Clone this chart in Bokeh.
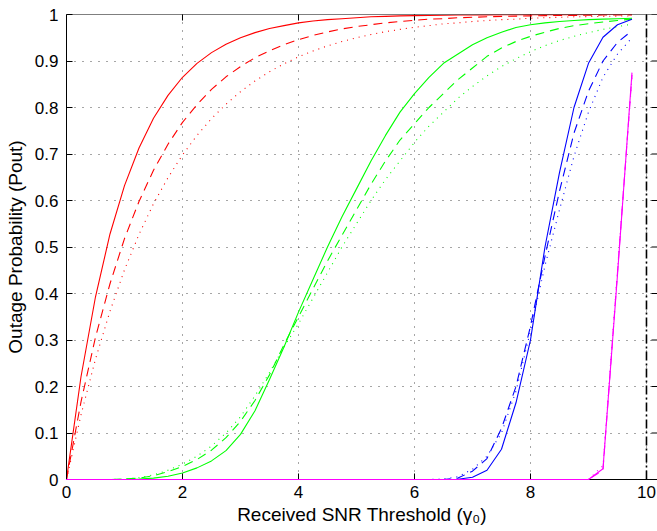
import math
from bokeh.plotting import figure
from bokeh.models import FixedTicker, Range1d, Span
from bokeh.embed import file_html
from bokeh.resources import INLINE

# ---------------- data ----------------
snr = [0.0, 0.25, 0.5, 0.75, 1.0, 1.25, 1.5, 1.75, 2.0, 2.25,
       2.5, 2.75, 3.0, 3.25, 3.5, 3.75, 4.0, 4.25, 4.5, 4.75,
       5.0, 5.25, 5.5, 5.75, 6.0, 6.25, 6.5, 6.75, 7.0, 7.25,
       7.5, 7.75, 8.0, 8.25, 8.5, 8.75, 9.0, 9.25, 9.5, 9.75]

red_solid = [0.0, 0.221, 0.393, 0.528, 0.632, 0.713, 0.777, 0.826, 0.865, 0.895,
             0.918, 0.936, 0.950, 0.961, 0.970, 0.976, 0.982, 0.986, 0.989, 0.991,
             0.993, 0.995, 0.996, 0.997, 0.9975, 0.998, 0.9985, 0.999, 0.999, 0.9993,
             0.9994, 0.9996, 0.9997, 0.9997, 0.9998, 0.9998, 0.9999, 0.9999, 0.9999, 0.9999]
red_dashed = [0.0, 0.167, 0.306, 0.421, 0.518, 0.598, 0.665, 0.721, 0.768, 0.806,
              0.839, 0.866, 0.888, 0.907, 0.922, 0.935, 0.946, 0.955, 0.9625, 0.969,
              0.974, 0.978, 0.982, 0.985, 0.9875, 0.990, 0.991, 0.993, 0.994, 0.995,
              0.996, 0.9965, 0.997, 0.9975, 0.998, 0.998, 0.9986, 0.9988, 0.999, 0.999]
red_dotted = [0.0, 0.139, 0.259, 0.362, 0.451, 0.527, 0.593, 0.649, 0.698, 0.740,
              0.776, 0.807, 0.834, 0.857, 0.877, 0.894, 0.909, 0.9215, 0.9325, 0.942,
              0.950, 0.957, 0.963, 0.968, 0.9725, 0.976, 0.980, 0.982, 0.985, 0.987,
              0.989, 0.990, 0.992, 0.993, 0.994, 0.995, 0.9955, 0.996, 0.9966, 0.997]

green_solid = [0.0, 0.0, 0.0, 0.0, 0.0, 0.001, 0.003, 0.007, 0.014, 0.025,
               0.04, 0.062, 0.097, 0.148, 0.215, 0.285, 0.36, 0.43, 0.50, 0.565,
               0.625, 0.685, 0.74, 0.79, 0.83, 0.865, 0.895, 0.915, 0.935, 0.95,
               0.962, 0.972, 0.978, 0.982, 0.985, 0.987, 0.989, 0.99, 0.991, 0.992]
green_dashed = [0.0, 0.0, 0.0, 0.0, 0.001, 0.003, 0.008, 0.017, 0.028, 0.043,
                0.063, 0.09, 0.125, 0.17, 0.225, 0.29, 0.35, 0.41, 0.47, 0.525,
                0.58, 0.635, 0.685, 0.73, 0.765, 0.80, 0.83, 0.86, 0.885, 0.91,
                0.928, 0.942, 0.953, 0.962, 0.97, 0.976, 0.98, 0.984, 0.987, 0.99]
green_dotted = [0.0, 0.0, 0.0, 0.0, 0.001, 0.004, 0.01, 0.02, 0.033, 0.05,
                0.072, 0.1, 0.135, 0.18, 0.23, 0.285, 0.335, 0.39, 0.445, 0.50,
                0.55, 0.6, 0.645, 0.685, 0.725, 0.76, 0.79, 0.82, 0.845, 0.868,
                0.888, 0.905, 0.92, 0.933, 0.944, 0.953, 0.961, 0.968, 0.974, 0.979]

blue_solid = [0.0] * 27 + [0.0005, 0.005, 0.02, 0.065, 0.165, 0.30, 0.50,
                           0.66, 0.80, 0.895, 0.951, 0.978, 0.99]
blue_dashed = [0.0] * 27 + [0.003, 0.018, 0.045, 0.11, 0.2, 0.33, 0.48,
                            0.62, 0.745, 0.835, 0.9, 0.94, 0.965]
blue_dotted = [0.0] * 26 + [0.001, 0.006, 0.022, 0.05, 0.1, 0.19, 0.32,
                            0.46, 0.58, 0.695, 0.79, 0.865, 0.915, 0.95]

magenta_solid = [0.0] * 36 + [0.0, 0.023, 0.44, 0.875]
magenta_dashed = [0.0] * 36 + [0.0, 0.02, 0.445, 0.87]
magenta_dotted = [0.0] * 36 + [0.0, 0.03, 0.45, 0.865]

limit_x = [10.0, 10.0]
limit_y = [0.0, 1.0]

x_ticks = [0, 2, 4, 6, 8, 10]
y_ticks = [0, 0.1, 0.2, 0.3, 0.4, 0.5, 0.6, 0.7, 0.8, 0.9, 1]
y_tick_labels = ["0", "0.1", "0.2", "0.3", "0.4", "0.5", "0.6", "0.7", "0.8", "0.9", "1"]

X_END = 10.19

# ---------------- figure ----------------
FONT = "Liberation Sans"

p = figure(width=657, height=531,
           x_range=Range1d(0, X_END), y_range=Range1d(0, 1),
           output_backend="svg", toolbar_location=None,
           min_border_left=66, min_border_top=14,
           min_border_right=0, min_border_bottom=52)
p.background_fill_color = "white"
p.border_fill_color = "white"
p.outline_line_color = None

xt = FixedTicker(ticks=x_ticks, minor_ticks=[])
yt = FixedTicker(ticks=y_ticks, minor_ticks=[])

for ax in (p.xaxis[0], p.yaxis[0]):
    ax.axis_line_color = "black"
    ax.axis_line_width = 1
    ax.major_tick_line_color = "black"
    ax.major_tick_in = 6
    ax.major_tick_out = 0
    ax.minor_tick_line_color = None
    ax.major_label_text_font = FONT
    ax.major_label_text_font_size = "17px"
    ax.major_label_text_color = "black"
    ax.axis_label_text_font = FONT
    ax.axis_label_text_font_size = "19px"
    ax.axis_label_text_font_style = "normal"
    ax.axis_label_text_color = "black"

p.xaxis[0].ticker = xt
p.yaxis[0].ticker = yt
p.yaxis[0].major_label_overrides = {t: s for t, s in zip(y_ticks, y_tick_labels)}
p.xaxis[0].major_label_standoff = 6
p.yaxis[0].major_label_standoff = 8
p.xaxis[0].axis_label = "Received SNR Threshold (\u03b3\u2080)"
p.xaxis[0].axis_label_standoff = 3
p.yaxis[0].axis_label = "Outage Probability (Pout)"
p.yaxis[0].axis_label_standoff = 6

p.xgrid.ticker = xt
p.ygrid.ticker = yt
for g in (p.xgrid[0], p.ygrid[0]):
    g.grid_line_color = "#222222"
    g.grid_line_dash = "1 7"
    g.grid_line_width = 1
    g.grid_line_alpha = 0.8

# top border line
p.add_layout(Span(location=1, dimension="width", line_color="black", line_width=1))

# inward tick marks on the top and right edges
p.scatter(x_ticks, [1] * len(x_ticks), marker="dash", size=12, angle=math.pi / 2,
          line_color="black", line_width=1)
p.scatter([X_END] * len(y_ticks), y_ticks, marker="dash", size=12,
          line_color="black", line_width=1)

SOLID = "solid"
DASH = "9 6"
DOT = "1 5"

series = [
    (red_solid, "#ff0000", SOLID), (red_dashed, "#ff0000", DASH), (red_dotted, "#ff0000", DOT),
    (green_solid, "#00ff00", SOLID), (green_dashed, "#00ff00", DASH), (green_dotted, "#00ff00", DOT),
    (blue_solid, "#0000ff", SOLID), (blue_dashed, "#0000ff", DASH), (blue_dotted, "#0000ff", DOT),
    (magenta_solid, "#ff00ff", SOLID), (magenta_dashed, "#ff00ff", DASH), (magenta_dotted, "#ff00ff", DOT),
]
for ys, col, dash in series:
    lvl = "overlay" if col in ("#0000ff", "#ff00ff") else "glyph"
    p.line(snr, ys, line_color=col, line_width=1.1, line_dash=dash, level=lvl)

p.line(limit_x, limit_y, line_color="black", line_width=1.6, line_dash="9 3 2 3")

open("out.html", "w").write(file_html(p, INLINE))
